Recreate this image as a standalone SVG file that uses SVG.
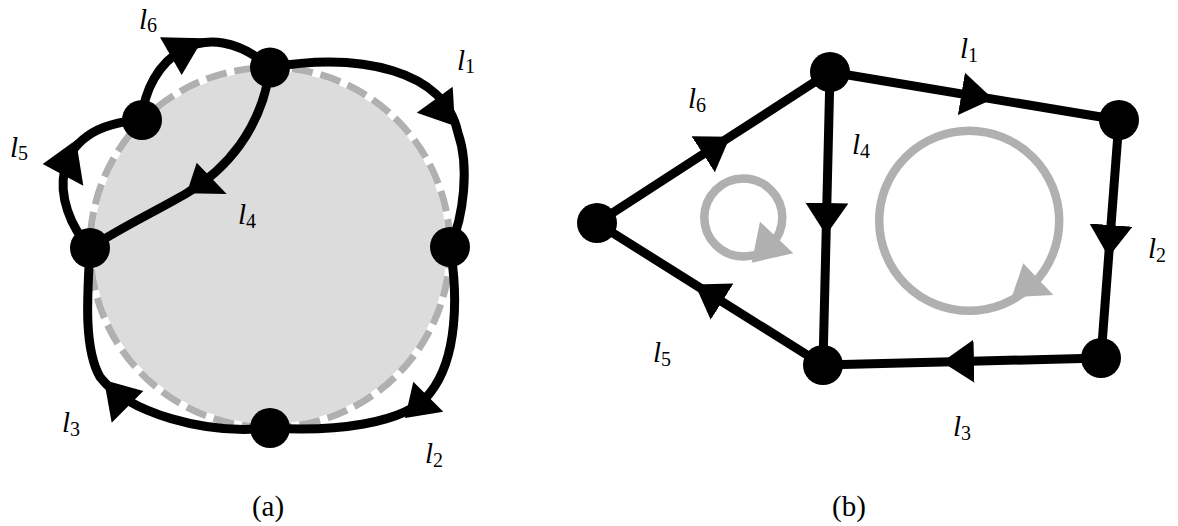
<svg xmlns="http://www.w3.org/2000/svg" width="1178" height="526" viewBox="0 0 1178 526">
<style>
.edge{fill:none;stroke:#000;stroke-width:9;stroke-linecap:butt}
.bedge{fill:none;stroke:#000;stroke-width:9;marker-mid:url(#arr)}
.ah{fill:#000}
.node{fill:#000}
.ring{fill:none;stroke:#b0b0b0;stroke-width:8.5}
.gah{fill:#b0b0b0}
.lbl{font-family:"Liberation Serif","DejaVu Serif",serif;font-size:29px;fill:#000}
.it{font-style:italic}
.sub{font-size:20px}
.cap{font-family:"Liberation Serif","DejaVu Serif",serif;font-size:29px;fill:#000;text-anchor:middle}
</style>
<defs>
<marker id="arr" markerUnits="userSpaceOnUse" viewBox="0 0 32 43" markerWidth="32" markerHeight="43" refX="32" refY="21.5" orient="auto">
<path d="M0,0 L32,21.5 L0,43 Z" fill="#000"/>
</marker>
</defs>
<rect width="1178" height="526" fill="#fff"/>

<!-- panel (a) -->
<g id="disk">
<circle cx="270" cy="247.5" r="180" fill="#dcdcdc" stroke="#fff" stroke-width="7"/>
<circle cx="270" cy="247.5" r="180" fill="none" stroke="#b0b0b0" stroke-width="7" stroke-dasharray="21 8"/>
</g>
<g id="connectors-a">
<path class="edge" d="M270,67.5 C360,52 445,70 458,133 C469.5,166 464,215.5 450,247"/>
<path class="edge" d="M450,247 C458,295 458,358 430,393 C406,425 330,432 270,428"/>
<path class="edge" d="M270,428 C205,435 128,413 100,377 C82.5,346.5 88,288 90,248"/>
<path class="edge" d="M270,67.5 C262,130 225,170 187,193 C160,209 120,228 90,248"/>
<path class="edge" d="M90,248 C50,205 45,125 142,120"/>
<path class="edge" d="M142,120 C145,60 205,10 270,67.5"/>
<polygon class="ah" points="416.7,112.7 452.7,86.7 455,126"/>
<polygon class="ah" points="413.3,381.7 443.3,411.7 405,418"/>
<polygon class="ah" points="104,380 143.3,391 111.7,422.7"/>
<polygon class="ah" points="196.7,162.7 226.7,194 186.7,193.3"/>
<polygon class="ah" points="42.7,164 76,140 83.3,185.7"/>
<polygon class="ah" points="160,37.3 203.3,38.3 181.7,75"/>
</g>
<g id="a-node-top"><circle class="node" cx="270" cy="67.5" r="20"/></g>
<g id="a-node-upperleft"><circle class="node" cx="142" cy="120" r="20"/></g>
<g id="a-node-left"><circle class="node" cx="90" cy="248" r="20"/></g>
<g id="a-node-right"><circle class="node" cx="450" cy="247" r="20"/></g>
<g id="a-node-bottom"><circle class="node" cx="270" cy="428" r="20"/></g>
<g id="labels-a">
<text class="lbl" x="457" y="70"><tspan class="it">l</tspan><tspan class="sub" dy="3">1</tspan></text>
<text class="lbl" x="425" y="463"><tspan class="it">l</tspan><tspan class="sub" dy="4">2</tspan></text>
<text class="lbl" x="62" y="432"><tspan class="it">l</tspan><tspan class="sub" dy="4">3</tspan></text>
<text class="lbl" x="238" y="224"><tspan class="it">l</tspan><tspan class="sub" dy="4">4</tspan></text>
<text class="lbl" x="10" y="157"><tspan class="it">l</tspan><tspan class="sub" dy="3">5</tspan></text>
<text class="lbl" x="139" y="29"><tspan class="it">l</tspan><tspan class="sub" dy="3">6</tspan></text>
<text class="cap" x="268" y="516">(a)</text>
</g>

<!-- panel (b) -->
<g id="loops">
<circle class="ring" cx="743.3" cy="217.5" r="39"/>
<polygon class="gah" points="760,221.7 793.3,253.3 751.7,262.7"/>
<circle class="ring" cx="969.2" cy="220.8" r="90"/>
<polygon class="gah" points="1023.3,263.3 1053.3,295 1011.7,297.3"/>
</g>
<g id="connectors-b">
<path class="bedge" d="M597,223 L730,136.8 L830,72"/>
<path class="bedge" d="M823,365 L695,284.6 L597,223"/>
<path class="bedge" d="M830,72 L826.1,235 L823,365"/>
<path class="bedge" d="M830,72 L993,99.1 L1119,120"/>
<path class="bedge" d="M1119,120 L1108.6,257 L1101,358"/>
<path class="bedge" d="M1101,358 L942,362 L823,365"/>
</g>
<g id="b-node-left"><circle class="node" cx="597" cy="223" r="20"/></g>
<g id="b-node-top"><circle class="node" cx="830" cy="72" r="20"/></g>
<g id="b-node-bottom"><circle class="node" cx="823" cy="365" r="20"/></g>
<g id="b-node-righttop"><circle class="node" cx="1119" cy="120" r="20"/></g>
<g id="b-node-rightbottom"><circle class="node" cx="1101" cy="358" r="20"/></g>
<g id="labels-b">
<text class="lbl" x="960" y="58"><tspan class="it">l</tspan><tspan class="sub" dy="4">1</tspan></text>
<text class="lbl" x="1148" y="258"><tspan class="it">l</tspan><tspan class="sub" dy="4">2</tspan></text>
<text class="lbl" x="953" y="436"><tspan class="it">l</tspan><tspan class="sub" dy="4">3</tspan></text>
<text class="lbl" x="852" y="154"><tspan class="it">l</tspan><tspan class="sub" dy="4">4</tspan></text>
<text class="lbl" x="653" y="362"><tspan class="it">l</tspan><tspan class="sub" dy="4">5</tspan></text>
<text class="lbl" x="688" y="108"><tspan class="it">l</tspan><tspan class="sub" dy="4">6</tspan></text>
<text class="cap" x="849" y="516">(b)</text>
</g>
</svg>
